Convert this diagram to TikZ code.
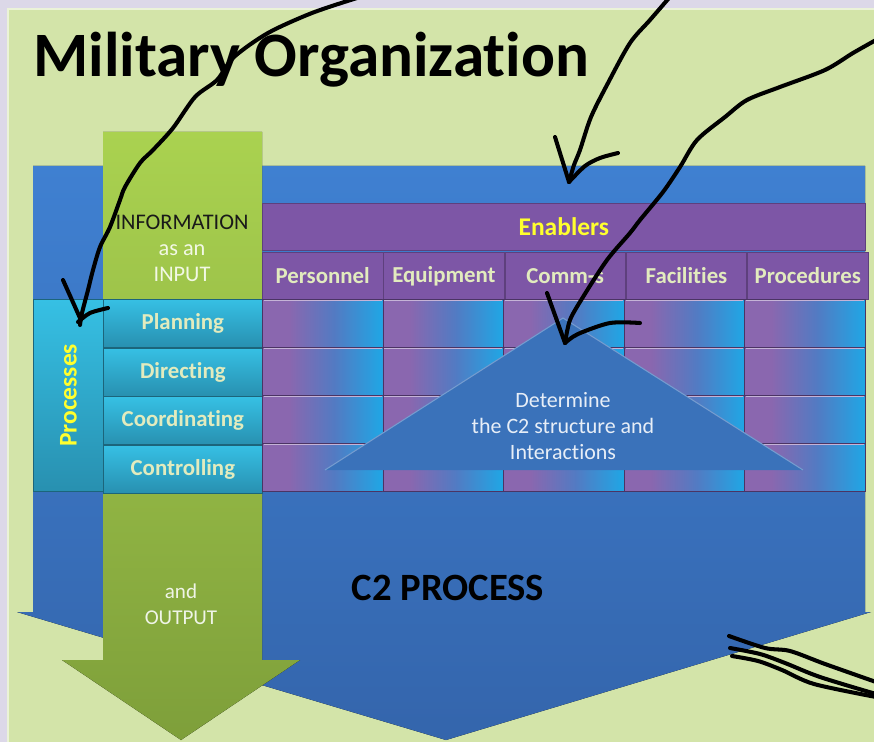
\documentclass[tikz,border=0pt]{standalone}
\usepackage{fontspec}
\setmainfont{Carlito}[Ligatures=NoCommon]
\usepackage{tikz}
\usetikzlibrary{positioning}
\tikzset{>=latex}

\definecolor{slide}{HTML}{DCD8E8}
\definecolor{panel}{HTML}{D3E4A9}
\definecolor{c2top}{HTML}{3F80D1}
\definecolor{c2bottom}{HTML}{3465AC}
\definecolor{inlime}{HTML}{AAD250}
\definecolor{inolive}{HTML}{7E9F3A}
\definecolor{enpurple}{HTML}{7D56A6}
\definecolor{encyan}{HTML}{12B2EE}
\definecolor{prcyan}{HTML}{36C0E4}
\definecolor{prteal}{HTML}{2890B0}
\definecolor{paletxt}{HTML}{E2EBBE}
\definecolor{enyellow}{HTML}{FFFF2E}
\definecolor{trblue}{HTML}{3A72BA}

\pgfdeclarehorizontalshading{cellshade}{100bp}{color(0bp)=(enpurple!90!white);
  color(36bp)=(enpurple!90!white); color(55bp)=(enpurple!60!encyan);
  color(80bp)=(encyan); color(100bp)=(encyan)}

\tikzset{
  enabler/.style={draw=enpurple!75!black, fill=enpurple, minimum height=0.94cm,
    inner sep=0pt, text=paletxt, font=\bfseries\fontsize{13}{15}\selectfont},
  process/.style={draw=prteal!70!black, top color=prcyan, bottom color=prteal,
    minimum width=3.18cm, minimum height=0.96cm, inner sep=0pt, text=paletxt,
    font=\bfseries\fontsize{13}{15}\selectfont},
  cell/.style={draw=enpurple!60!black, shading=cellshade,
    minimum width=2.412cm, minimum height=0.96cm, inner sep=0pt},
  scribble/.style={line width=2.3pt, black, line cap=round, line join=round},
}

\begin{document}
\begin{tikzpicture}[x=0.02cm, y=-0.02cm]
  \useasboundingbox (0,0) rectangle (874,742);

  % START: Slide -----------------------------------
  \fill[slide] (0,0) rectangle (874,742);
  \fill[panel] (7,8) rectangle (874,742);
  \draw[white!55!panel, line width=1.5pt] (8,742) -- (8,9) -- (874,9);
  \node[anchor=base west, font=\bfseries\fontsize{36}{40}\selectfont] (title)
    at (27,77) {Military Organization};
  % END: Slide -------------------------------------

  % START: C2 process arrow ------------------------
  \fill[top color=c2top, bottom color=c2bottom]
    (33,166) -- (865,166) -- (865,612) -- (871,612) -- (446,740)
    -- (17,612) -- (33,612) -- cycle;
  \node[font=\bfseries\fontsize{22}{26}\selectfont] (c2) at (448,588) {C2 PROCESS};
  % END: C2 process arrow --------------------------

  % START: Information arrow -----------------------
  \fill[top color=inlime, bottom color=inolive]
    (103,132) -- (262,132) -- (262,660) -- (300,660) -- (181,740)
    -- (62,660) -- (103,660) -- cycle;
  \node[anchor=base, font=\fontsize{12.7}{15}\selectfont, text=black!90] (info)
    at (182,230) {INFORMATION};
  \node[anchor=base, font=\fontsize{12.7}{15}\selectfont, text=white!85!inlime] (asan)
    at (182,256) {as an};
  \node[anchor=base, font=\fontsize{12.7}{15}\selectfont, text=white!85!inlime] (input)
    at (182,282) {INPUT};
  \node[anchor=base, font=\fontsize{12}{15}\selectfont, text=white!88!inolive] (and)
    at (181,598) {and};
  \node[anchor=base, font=\fontsize{12}{15}\selectfont, text=white!88!inolive] (output)
    at (181,624) {OUTPUT};
  % END: Information arrow -------------------------

  % START: Enablers --------------------------------
  \node[enabler, minimum width=12.06cm, anchor=north west, text=enyellow,
    font=\bfseries\fontsize{14.5}{17}\selectfont] (enablers) at (262,203) {Enablers};
  \node[enabler, minimum width=2.412cm, anchor=north west] (hd1) at (262,252) {Personnel};
  \node[enabler, minimum width=2.412cm, right=0pt of hd1] (hd2) {Equipment};
  \node[enabler, minimum width=2.412cm, right=0pt of hd2] (hd3) {Comm-s};
  \node[enabler, minimum width=2.412cm, right=0pt of hd3] (hd4) {Facilities};
  \node[enabler, minimum width=2.412cm, right=0pt of hd4] (hd5) {Procedures};
  % END: Enablers ----------------------------------

  % START: Processes -------------------------------
  \node[draw=prteal!70!black, top color=prcyan, bottom color=prteal, inner sep=0pt,
    minimum width=1.4cm, minimum height=3.84cm, anchor=north west] (procbar) at (33,299) {};
  \node[rotate=90, text=enyellow, font=\bfseries\fontsize{14.5}{17}\selectfont]
    (proclab) at (procbar.center) {Processes};
  \node[process, anchor=north west] (plan) at (103,299) {Planning};
  \node[process, below=0pt of plan] (direct) {Directing};
  \node[process, below=0pt of direct] (coord) {Coordinating};
  \node[process, below=0pt of coord] (control) {Controlling};
  \foreach \r in {1,...,4}{
    \foreach \c in {1,...,5}{
      \node[cell, anchor=north west] (cell-\r-\c) at ({262+120.6*(\c-1)},{299+48*(\r-1)}) {};
      \draw[enpurple!45!white, line width=0.8pt]
        ([xshift=1pt,yshift=-1pt]cell-\r-\c.north west) -- ([xshift=-1pt,yshift=-1pt]cell-\r-\c.north east);
    }
  }
  % END: Processes ---------------------------------

  % START: Structure triangle ----------------------
  \fill[trblue] (563,318) -- (803,470) -- (325,470) -- cycle;
  \draw[trblue!70!white, line width=0.6pt] (325,470) -- (563,318) -- (803,470);
  \node[align=center, text=white!88!trblue, font=\fontsize{12.5}{14.8}\selectfont] (det)
    at (563,426) {Determine\\the C2 structure and\\Interactions};
  % END: Structure triangle ------------------------

  % START: Scribbles -------------------------------
  \coordinate (s1) at (80,325);
  \coordinate (s2) at (569,182);
  \coordinate (s3) at (565,343);
  \draw[scribble] plot[smooth] coordinates {(357,-2) (312,13) (268,33) (234,57)
    (217,80) (195,97) (173,128) (153,150) (140,163) (125,187) (120,200) (110,227)
    (100,247) (93,270) (88,290) (82,313) (s1)};
  \draw[scribble] (63,280) -- (80,318);
  \draw[scribble] plot[smooth] coordinates {(78,322) (90,313) (108,308)};
  \draw[scribble] plot[smooth] coordinates {(669,-2) (650,20) (630,43) (608,83)
    (591,117) (580,150) (574,165) (s2)};
  \draw[scribble] (555,137) -- (s2);
  \draw[scribble] plot[smooth] coordinates {(s2) (585,166) (600,158) (618,153)};
  \draw[scribble] plot[smooth] coordinates {(876,40) (853,53) (825,70) (780,87)
    (747,100) (725,117) (697,140) (680,167) (663,192) (640,220) (630,233)
    (607,260) (583,297) (570,320) (s3)};
  \draw[scribble] (547,293) -- (s3);
  \draw[scribble] plot[smooth] coordinates {(s3) (578,334) (610,323) (640,323)};
  \draw[scribble] plot[smooth] coordinates {(729,636) (765,648) (790,651)
    (825,664) (876,682)};
  \draw[scribble] plot[smooth] coordinates {(730,648) (760,654) (785,663)
    (820,677) (876,694)};
  \draw[scribble] plot[smooth] coordinates {(732,656) (758,661) (782,670)
    (814,684) (876,697)};
  % END: Scribbles ---------------------------------
\end{tikzpicture}
\end{document}
